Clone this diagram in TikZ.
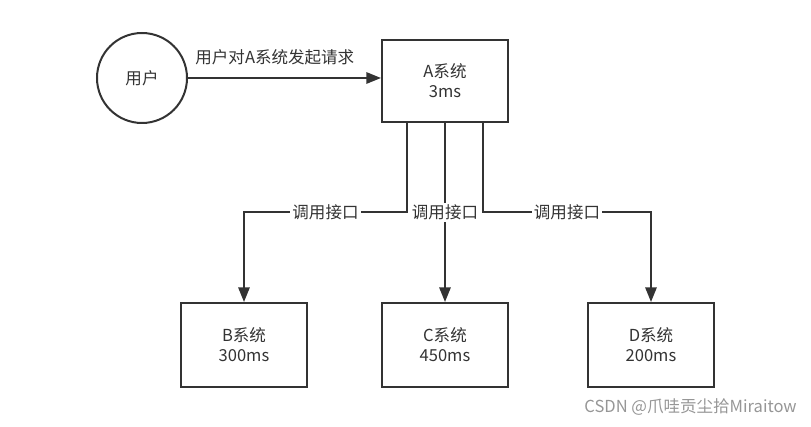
\documentclass[tikz,border=0pt]{standalone}
\usepackage{fontspec}
\setmainfont{Noto Sans CJK SC}
\usepackage{xcolor}
\usepackage{tikz}
\usetikzlibrary{arrows.meta}
\definecolor{linegray}{RGB}{51,51,51}
\definecolor{marktext}{RGB}{150,150,150}

\begin{document}
\begin{tikzpicture}[x=0.75pt,y=0.75pt,yscale=-1,xscale=1,
        font=\fontsize{12.4}{15}\selectfont,
        sysbox/.style={draw=linegray, line width=1.5pt, fill=white, minimum width=94.5pt, minimum height=63pt, align=center, text=linegray, inner sep=0pt},
        link/.style={draw=linegray, line width=1.5pt, -{Triangle[length=11pt,width=8.5pt]}},
        calllabel/.style={fill=white, text=linegray, inner sep=1.5pt}]
        \useasboundingbox (0,0) rectangle (811,427);

        \node [draw=linegray, line width=1.5pt, circle, minimum size=67.5pt, text=linegray] (user) at (142,78) {用户};
        \node [sysbox, minimum height=61.5pt] (A) at (445,81) {A系统\\3ms};
        \node [sysbox] (B) at (244,345) {B系统\\300ms};
        \node [sysbox] (C) at (445,345) {C系统\\450ms};
        \node [sysbox] (D) at (651,345) {D系统\\200ms};
        \coordinate (bend) at (0,212);

        \draw [link] (user) -- node [above=6pt, pos=0.45, text=linegray] {用户对A系统发起请求} (user -| A.west);
        \draw [link] ([xshift=-28.5pt]A.south) |- node [calllabel, pos=0.75] {调用接口} (bend -| B.north) -- (B.north);
        \draw [link] (A) -- node [calllabel] {调用接口} (C);
        \draw [link] ([xshift=28.5pt]A.south) |- node [calllabel, pos=0.75] {调用接口} (bend -| D.north) -- (D.north);

        \node [text=marktext, anchor=east, inner sep=0pt] (mark) at (797,407) {CSDN @爪哇贡尘拾Miraitow};
\end{tikzpicture}
\end{document}
